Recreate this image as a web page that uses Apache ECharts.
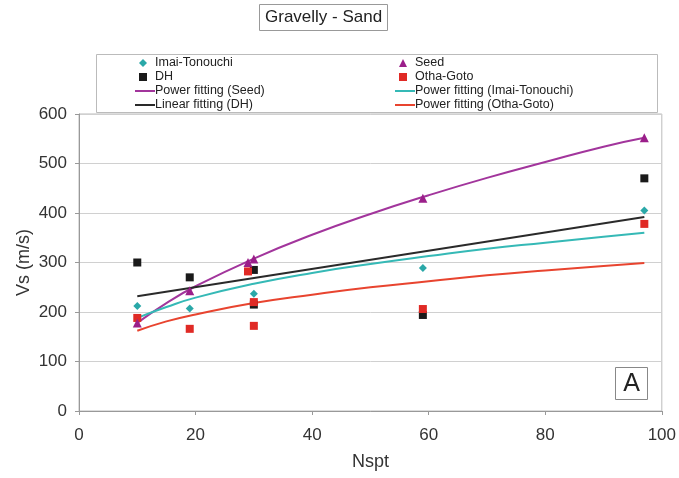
<!DOCTYPE html>
<html>
<head>
<meta charset="utf-8">
<script src="https://cdn.jsdelivr.net/npm/echarts@6/dist/echarts.min.js"></script>
<style>
  html, body { margin: 0; padding: 0; background: #fff; }
  #chart { width: 679px; height: 478px; }
</style>
</head>
<body>
<div id="chart"></div>
<script>
// measured points, [Nspt, Vs]
var imaiPts = [[10, 212], [19, 207], [30, 237], [59, 289], [97, 405]];
var seedPts = [[10, 178], [19, 243], [29, 300], [30, 307], [59, 430], [97, 552]];
var dhPts = [[10, 300], [19, 270], [30, 285], [30, 215], [59, 194], [97, 470]];
var othaPts = [[10, 188], [19, 166], [29, 282], [30, 220], [30, 172], [59, 206], [97, 378]];

// fitted curves
var seedFit = [[10, 178], [15, 218], [20, 252], [30, 308], [40, 356], [50, 398], [60, 436], [70, 471], [80, 503], [90, 534], [97, 552]];
var imaiFit = [[10, 188], [15, 210], [20, 229], [30, 257], [40, 279], [50, 297], [60, 313], [70, 328], [80, 340], [90, 352], [97, 360]];
var othaFit = [[10, 162], [15, 181], [20, 195], [30, 218], [40, 235], [50, 250], [60, 262], [70, 274], [80, 284], [90, 293], [97, 299]];
var dhFit = [[10, 232], [97, 392]];

// legend layout: two columns, points first then fitted lines
var leftPts = ['Imai-Tonouchi', 'DH'];
var leftFits = ['Power fitting (Seed)', 'Linear fitting (DH)'];
var rightPts = ['Seed', 'Otha-Goto'];
var rightFits = ['Power fitting (Imai-Tonouchi)', 'Power fitting (Otha-Goto)'];

var font = 'Liberation Sans, Arial, sans-serif';
var chart = echarts.init(document.getElementById('chart'));

function legendBlock(items, x, y, isLine) {
  return {
    data: items.map(function (n) { return isLine ? { name: n, icon: 'rect' } : { name: n }; }),
    orient: 'vertical',
    left: x,
    top: y,
    itemGap: 0,
    itemWidth: isLine ? 20 : 8,
    itemHeight: isLine ? 2 : 8,
    padding: 0,
    selectedMode: false,
    textStyle: {
      fontFamily: font, fontSize: 12.5, color: '#222', lineHeight: 14,
      padding: [0, 0, 0, isLine ? -5 : 3]
    }
  };
}

function fitLine(name, data, color) {
  return {
    name: name, type: 'line', data: data, smooth: true,
    symbol: 'none', z: 2,
    lineStyle: { color: color, width: 2 }, itemStyle: { color: color }
  };
}

function pts(name, data, symbol, size, color) {
  return {
    name: name, type: 'scatter', data: data, symbol: symbol,
    symbolSize: size, z: 5, itemStyle: { color: color, opacity: 1 }
  };
}

var option = {
  animation: false,
  textStyle: { fontFamily: font },
  title: {
    text: 'Gravelly - Sand',
    left: 259, top: 4,
    borderWidth: 1, borderColor: '#999',
    padding: [5, 6, 5, 6],
    textStyle: { fontFamily: font, fontSize: 17, fontWeight: 'normal', color: '#222' }
  },
  legend: [
    legendBlock(leftPts, 139, 56, false),
    legendBlock(leftFits, 135, 84, true),
    legendBlock(rightPts, 399, 56, false),
    legendBlock(rightFits, 395, 84, true)
  ],
  grid: {
    left: 79, right: 15, top: 114, bottom: 67,
    show: true, borderColor: '#bbb', borderWidth: 1
  },
  xAxis: {
    type: 'value', min: 0, max: 100, interval: 20,
    name: 'Nspt', nameLocation: 'middle', nameGap: 42, nameMoveOverlap: false,
    nameTextStyle: { fontFamily: font, fontSize: 18, color: '#333' },
    axisLine: { show: true, lineStyle: { color: '#999' } },
    axisTick: { show: true, length: 4, lineStyle: { color: '#999' } },
    axisLabel: { fontFamily: font, fontSize: 17, color: '#333', margin: 16 },
    splitLine: { show: false }
  },
  yAxis: {
    type: 'value', min: 0, max: 600, interval: 100,
    name: 'Vs (m/s)', nameLocation: 'middle', nameGap: 46, nameMoveOverlap: false,
    nameTextStyle: { fontFamily: font, fontSize: 18, color: '#333' },
    axisLine: { show: true, lineStyle: { color: '#999' } },
    axisTick: { show: true, length: 4, lineStyle: { color: '#999' } },
    axisLabel: { fontFamily: font, fontSize: 17, color: '#333', margin: 12 },
    splitLine: { show: true, lineStyle: { color: '#d0d0d0' } }
  },
  graphic: [
    {
      type: 'rect', left: 94, top: 52, z: 0,
      shape: { width: 561, height: 58 },
      style: { fill: 'none', stroke: '#bbb', lineWidth: 1 }
    },
    {
      type: 'rect', left: 615, top: 367, z: 10,
      shape: { width: 32, height: 32 },
      style: { fill: '#fff', stroke: '#888', lineWidth: 1 }
    },
    {
      type: 'text', x: 631.5, y: 384, z: 11,
      style: { text: 'A', font: '25px ' + font, fill: '#222', align: 'center', verticalAlign: 'middle' }
    }
  ],
  series: [
    fitLine('Power fitting (Seed)', seedFit, '#a2359c'),
    fitLine('Power fitting (Imai-Tonouchi)', imaiFit, '#35b9b6'),
    fitLine('Linear fitting (DH)', dhFit, '#2a2a2a'),
    fitLine('Power fitting (Otha-Goto)', othaFit, '#e8442f'),
    pts('DH', dhPts, 'rect', 8, '#1a1a1a'),
    pts('Otha-Goto', othaPts, 'rect', 8, '#e02a25'),
    pts('Imai-Tonouchi', imaiPts, 'diamond', 8, '#2aa8a8'),
    pts('Seed', seedPts, 'triangle', 9, '#9b1f8a')
  ]
};

chart.setOption(option);
</script>
</body>
</html>
